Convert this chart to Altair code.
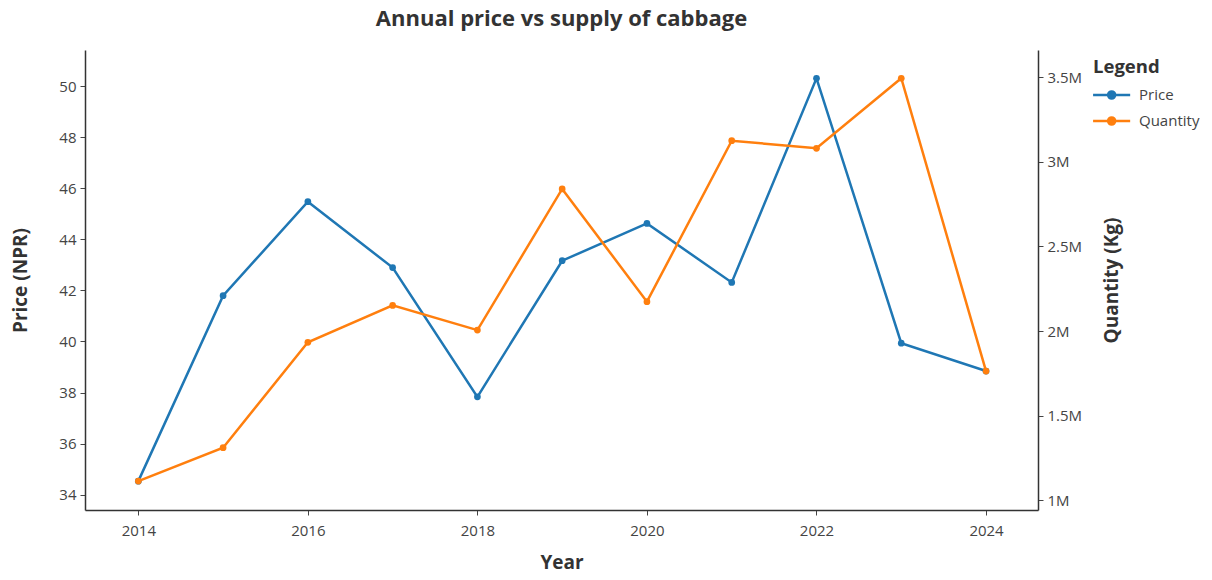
import altair as alt
import pandas as pd

years = [2014, 2015, 2016, 2017, 2018, 2019, 2020, 2021, 2022, 2023, 2024]
price = [34.53, 41.79, 45.47, 42.89, 37.83, 43.16, 44.62, 42.31, 50.30, 39.93, 38.84]
quantity = [1114000, 1311000, 1934000, 2152000, 2006000, 2840000, 2174000, 3125000, 3080000, 3494000, 1764000]

series_names = ["Price", "Quantity"]
series_colors = ["#1f77b4", "#ff7f0e"]

df_price = pd.DataFrame({"Year": years, "Value": price, "Series": "Price"})
df_qty = pd.DataFrame({"Year": years, "Value": quantity, "Series": "Quantity"})

FONT = "Open Sans"

x_enc = alt.X(
    "Year:Q",
    scale=alt.Scale(domain=[2013.371, 2024.613], nice=False, zero=False),
    axis=alt.Axis(
        title="Year",
        values=[2014, 2016, 2018, 2020, 2022, 2024],
        format="d",
        grid=False,
        tickSize=5,
        labelPadding=8,
        titlePadding=15,
    ),
)

color_enc = alt.Color(
    "Series:N",
    scale=alt.Scale(domain=series_names, range=series_colors),
    legend=alt.Legend(
        title="Legend",
        orient="none",
        legendX=1008,
        legendY=8,
        symbolType="M-2,0L8,0M2.05,0A0.95,0.95 0 1,0 3.95,0A0.95,0.95 0 1,0 2.05,0Z",
        symbolSize=55,
        symbolStrokeWidth=2.5,
        rowPadding=7,
        titlePadding=11,
        labelOffset=31,
    ),
)

price_layer = alt.Chart(df_price).mark_line(
    strokeWidth=2.5, point=alt.OverlayMarkDef(filled=True, size=45, opacity=1)
).encode(
    x=x_enc,
    y=alt.Y(
        "Value:Q",
        scale=alt.Scale(domain=[33.40, 51.41], nice=False, zero=False),
        axis=alt.Axis(
            title="Price (NPR)",
            orient="left",
            values=[34, 36, 38, 40, 42, 44, 46, 48, 50],
            grid=False,
            tickSize=5,
            labelPadding=4,
            titlePadding=28,
        ),
    ),
    color=color_enc,
)

qty_layer = alt.Chart(df_qty).mark_line(
    strokeWidth=2.5, point=alt.OverlayMarkDef(filled=True, size=45, opacity=1)
).encode(
    x=x_enc,
    y=alt.Y(
        "Value:Q",
        scale=alt.Scale(domain=[943000, 3661000], nice=False, zero=False),
        axis=alt.Axis(
            title="Quantity (Kg)",
            orient="right",
            values=[1000000, 1500000, 2000000, 2500000, 3000000, 3500000],
            format="~s",
            grid=False,
            tickSize=5,
            labelPadding=4,
            titlePadding=40,
            titleAngle=270,
        ),
    ),
    color=color_enc,
)

chart = (
    alt.layer(price_layer, qty_layer)
    .resolve_scale(y="independent")
    .properties(
        width=953,
        height=460,
        title=alt.TitleParams(
            "Annual price vs supply of cabbage",
            anchor="middle",
            frame="group",
            fontSize=22,
            fontWeight="bold",
            color="#333333",
            font=FONT,
            offset=19,
        ),
        padding={"left": 77, "top": 42, "right": 166, "bottom": 62},
        autosize=alt.AutoSizeParams(type="none"),
    )
    .configure_view(stroke=None)
    .configure_axis(
        labelFont=FONT,
        titleFont=FONT,
        labelFontSize=15,
        titleFontSize=19,
        titleFontWeight="bold",
        labelColor="#444444",
        titleColor="#333333",
        domainColor="#333333",
        tickColor="#444444",
        domainWidth=1.5,
    )
    .configure_legend(
        labelFont=FONT,
        titleFont=FONT,
        labelFontSize=15,
        titleFontSize=18.5,
        titleFontWeight="bold",
        labelColor="#444444",
        titleColor="#333333",
        labelLimit=200,
    )
)

chart.save("out.html", embed_options={"renderer": "svg", "actions": False})
